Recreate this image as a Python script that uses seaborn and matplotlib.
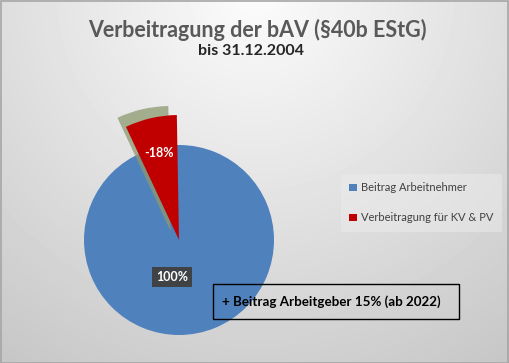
import numpy as np
import matplotlib
matplotlib.use("Agg")
import matplotlib.pyplot as plt
import seaborn as sns
from matplotlib.patches import Rectangle, Patch

# ---- data ----
categories = ["Beitrag Arbeitnehmer", "Verbeitragung für KV & PV"]
label_values = [100, -18]          # shown percentages
slice_sizes = [100, 6.7]           # share of the circle covered by each slice (%)
colors = ["#4F81BD", "#C00000"]
title = "Verbeitragung der bAV (§40b EStG)"
subtitle = "bis 31.12.2004"
note = "+ Beitrag Arbeitgeber 15% (ab 2022)"

sns.set_theme(style="white")
plt.rcParams['font.family'] = ['Lato', 'DejaVu Sans']

W, H = 509, 363
fig = plt.figure(figsize=(W / 100, H / 100), dpi=100)
ax = fig.add_axes([0, 0, 1, 1])

# background radial gradient
yy, xx = np.mgrid[0:H, 0:W]
d = np.hypot(xx - 255, yy + 10)
g = np.clip(252 - d * 0.12, 190, 255) / 255
ax.imshow(g, cmap='gray', vmin=0, vmax=1, extent=[0, W, 0, H],
          origin='upper', zorder=0, aspect='auto')

cx, cy = 179, H - 240
R_blue, R_red = 95, 125

# blue full pie
w1, _ = ax.pie([slice_sizes[0]], colors=[colors[0]], radius=R_blue,
               center=(cx, cy), startangle=90,
               wedgeprops=dict(linewidth=0))
# shadow of red slice
ws, _ = ax.pie([slice_sizes[1], 100 - slice_sizes[1]],
               colors=['#8c9a70', 'none'], radius=R_red,
               center=(cx - 8.5, cy + 9), startangle=91,
               wedgeprops=dict(linewidth=0))
ws[0].set_alpha(0.75)
# red slice
w2, _ = ax.pie([slice_sizes[1], 100 - slice_sizes[1]],
               colors=[colors[1], 'none'], radius=R_red,
               center=(cx, cy), startangle=91,
               wedgeprops=dict(linewidth=0))

ax.set_xlim(0, W)
ax.set_ylim(0, H)
ax.set_aspect('equal')
ax.axis('off')

# data labels
ax.text(159, H - 153, f"{label_values[1]}%", color='white', fontsize=9,
        fontweight='bold', ha='center', va='center', zorder=5)
ax.text(172, H - 277, f"{label_values[0]}%", color='white', fontsize=9,
        fontweight='bold', ha='center', va='center', zorder=5,
        bbox=dict(boxstyle='square,pad=0.3', facecolor='#404040',
                  edgecolor='none', alpha=0.95))

# titles
ax.text(257, H - 30, title, fontsize=15.5, fontweight='bold', color='#595959',
        ha='center', va='center')
ax.text(251, H - 51, subtitle, fontsize=11.5, fontweight='bold', color='#262626',
        ha='center', va='center')

# legend
handles = [Patch(facecolor=c, edgecolor='none') for c in colors]
leg = ax.legend(handles, categories, loc='upper left',
                bbox_to_anchor=(335 / W, 1 - 168 / H), fontsize=8,
                frameon=True, facecolor='#ececec', edgecolor='none',
                framealpha=0.5, handlelength=0.7, handleheight=0.7,
                handletextpad=0.35, labelspacing=1.7, borderpad=0.8)
for t in leg.get_texts():
    t.set_color('#404040')

# note box
ax.add_patch(Rectangle((213, H - 319), 246, 35, fill=False,
                       edgecolor='black', linewidth=1, zorder=4))
ax.text(331, H - 301.5, note, fontsize=9.6, fontweight='bold', color='black',
        ha='center', va='center', zorder=5)

# outer border
ax.add_patch(Rectangle((0.5, 0.5), W - 1, H - 1, fill=False,
                       edgecolor='#a6a6a6', linewidth=1.2, zorder=6))

fig.savefig("out.png", dpi=100)
